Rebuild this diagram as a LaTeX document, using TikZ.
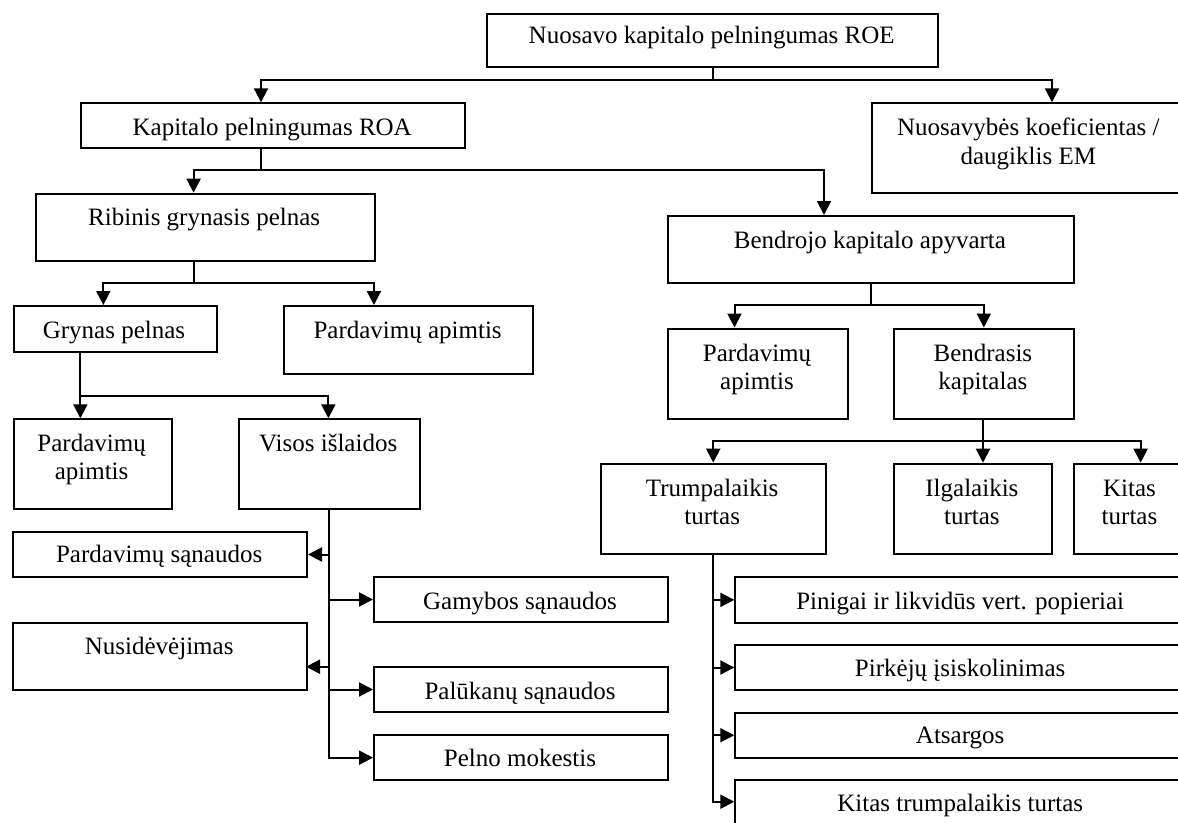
\documentclass[tikz,border=0pt]{standalone}
\usepackage{fontspec}
\setmainfont{Liberation Serif}
\usetikzlibrary{arrows.meta}

\tikzset{
  box/.style={draw, line width=2pt, inner sep=0pt, anchor=north west},
  txt/.style={anchor=base, inner sep=0pt, font=\fontsize{25}{28}\selectfont},
  conn/.style={line width=2pt},
  arr/.style={conn, -{Triangle[length=14pt,width=14pt]}},
}

\begin{document}
\begin{tikzpicture}[x=1pt,y=-1pt]
\useasboundingbox (0,0) rectangle (1178,822);
\clip (0,0) rectangle (1178,822);

% ---- boxes ----
\node[box, minimum width=451.4pt, minimum height=53pt]   (roe)   at (486,12.7)    {};
\node[box, minimum width=383.6pt, minimum height=45pt]   (roa)   at (80.4,102.3)  {};
\node[box, minimum width=315.4pt, minimum height=90pt]   (em)    at (870.6,102.3) {};
\node[box, minimum width=338.7pt, minimum height=67.3pt] (rib)   at (34.8,192.7)  {};
\node[box, minimum width=405.7pt, minimum height=67.3pt] (bend)  at (667,215)     {};
\node[box, minimum width=202.9pt, minimum height=45.7pt] (gryn)  at (12.6,305)    {};
\node[box, minimum width=248.8pt, minimum height=68.3pt] (pardA) at (283.2,305)   {};
\node[box, minimum width=158.1pt, minimum height=90pt]   (pardB) at (12.6,418.3)  {};
\node[box, minimum width=181pt,   minimum height=90pt]   (visos) at (237.7,418.3) {};
\node[box, minimum width=180.6pt, minimum height=90.8pt] (pardC) at (666.7,327.5) {};
\node[box, minimum width=180.3pt, minimum height=90.8pt] (bkap)  at (892.7,327.5) {};
\node[box, minimum width=225.5pt, minimum height=90.6pt] (trump) at (599.5,462.7) {};
\node[box, minimum width=158.3pt, minimum height=90.6pt] (ilg)   at (892.7,462.7) {};
\node[box, minimum width=113pt,   minimum height=90.6pt] (kitas) at (1073,462.7)  {};
\node[box, minimum width=293.7pt, minimum height=45pt]   (psan)  at (12.3,531)    {};
\node[box, minimum width=293.7pt, minimum height=67.3pt] (nusid) at (12.3,621.7)  {};
\node[box, minimum width=294pt,   minimum height=45pt]   (gam)   at (373,576)     {};
\node[box, minimum width=294pt,   minimum height=45pt]   (pal)   at (373,666)     {};
\node[box, minimum width=294pt,   minimum height=45.3pt] (pelno) at (373,734)     {};
\node[box, minimum width=451.7pt, minimum height=45.7pt] (pin)   at (734.3,576)   {};
\node[box, minimum width=451.7pt, minimum height=45pt]   (pirk)  at (734.3,644)   {};
\node[box, minimum width=451.7pt, minimum height=45pt]   (ats)   at (734.3,711.7) {};
\node[box, minimum width=451.7pt, minimum height=70pt]   (kitt)  at (734.3,779.3) {};

% ---- texts (placed on their baselines) ----
\node[txt] (roe-t)    at (711.7,43.3)  {Nuosavo kapitalo pelningumas ROE};
\node[txt] (roa-t)    at (272.2,135)   {Kapitalo pelningumas ROA};
\node[txt] (em-t1)    at (1028.3,135.7){Nuosavybės koeficientas /};
\node[txt] (em-t2)    at (1028.3,164)  {daugiklis EM};
\node[txt] (rib-t)    at (204.2,225.7) {Ribinis grynasis pelnas};
\node[txt] (bend-t)   at (869.9,248.3) {Bendrojo kapitalo apyvarta};
\node[txt] (gryn-t)   at (114,338.3)   {Grynas pelnas};
\node[txt] (pardA-t)  at (407.6,338.3) {Pardavimų apimtis};
\node[txt] (pardB-t1) at (91.6,451)    {Pardavimų};
\node[txt] (pardB-t2) at (91.6,479.3)  {apimtis};
\node[txt] (visos-t)  at (328.2,451)   {Visos išlaidos};
\node[txt] (pardC-t1) at (757,361.7)   {Pardavimų};
\node[txt] (pardC-t2) at (757,389.3)   {apimtis};
\node[txt] (bkap-t1)  at (982.9,361.7) {Bendrasis};
\node[txt] (bkap-t2)  at (982.9,389.3) {kapitalas};
\node[txt] (trump-t1) at (712.2,496.7) {Trumpalaikis};
\node[txt] (trump-t2) at (712.2,524.3) {turtas};
\node[txt] (ilg-t1)   at (971.9,496.7) {Ilgalaikis};
\node[txt] (ilg-t2)   at (971.9,524.3) {turtas};
\node[txt] (kitas-t1) at (1129.5,496.7){Kitas};
\node[txt] (kitas-t2) at (1129.5,524.3){turtas};
\node[txt] (psan-t)   at (159.2,562.7) {Pardavimų sąnaudos};
\node[txt] (nusid-t)  at (159.2,654)   {Nusidėvėjimas};
\node[txt] (gam-t)    at (520,609.3)   {Gamybos sąnaudos};
\node[txt] (pal-t)    at (520,699)     {Palūkanų sąnaudos};
\node[txt] (pelno-t)  at (520,766)     {Pelno mokestis};
\node[txt] (pin-t)    at (960.2,609)   {Pinigai ir likvidūs vert. popieriai};
\node[txt] (pirk-t)   at (960.2,676.7) {Pirkėjų įsiskolinimas};
\node[txt] (ats-t)    at (960.2,743.3) {Atsargos};
\node[txt] (kitt-t)   at (960.2,811)   {Kitas trumpalaikis turtas};

% ---- junction points of the connectors ----
\coordinate (j0)  at (712,80);
\coordinate (j0l) at (261,80);
\coordinate (j0r) at (1052,80);
\coordinate (j1)  at (261,170.3);
\coordinate (j1l) at (193.6,170.3);
\coordinate (j1r) at (824,170.3);
\coordinate (j2)  at (193.6,283.3);
\coordinate (j2l) at (103.3,283.3);
\coordinate (j2r) at (373.9,283.3);
\coordinate (j3)  at (80.4,396);
\coordinate (j3r) at (328.4,396);
\coordinate (j4)  at (870.6,305);
\coordinate (j4l) at (734.5,305);
\coordinate (j5)  at (983,441);
\coordinate (j5r) at (1140.6,441);
\coordinate (nusid-in) at (306,666.7);
\coordinate (kitt-in)  at (734.3,801.7);

% ---- connectors ----
\draw[arr] (roe.south) -- (roe.south |- j0) -| (roa.north -| j0l);
\draw[arr] (roe.south |- j0) -| (em.north -| j0r);

\draw[arr] (roa.south -| j1) -- (j1) -| (rib.north -| j1l);
\draw[arr] (j1) -| (bend.north -| j1r);

\draw[arr] (rib.south -| j2) -- (j2) -| (gryn.north -| j2l);
\draw[arr] (j2) -| (pardA.north -| j2r);

\draw[arr] (gryn.south -| j3) -- (pardB.north -| j3);
\draw[arr] (j3) -| (visos.north -| j3r);

\draw[arr] (visos.south) |- (pelno.west);
\draw[arr] (visos.south |- psan.east) -- (psan.east);
\draw[arr] (visos.south |- nusid-in) -- (nusid-in);
\draw[arr] (visos.south |- gam.west) -- (gam.west);
\draw[arr] (visos.south |- pal.west) -- (pal.west);

\draw[arr] (bend.south -| j4) -- (j4) -| (pardC.north -| j4l);
\draw[arr] (j4) -| (bkap.north);

\draw[arr] (bkap.south -| j5) -- (j5) -| (trump.north);
\draw[arr] (j5) -- (ilg.north -| j5);
\draw[arr] (j5) -| (kitas.north -| j5r);

\draw[arr] (trump.south) |- (kitt-in);
\draw[arr] (trump.south |- pin.west) -- (pin.west);
\draw[arr] (trump.south |- pirk.west) -- (pirk.west);
\draw[arr] (trump.south |- ats.west) -- (ats.west);
\end{tikzpicture}
\end{document}
